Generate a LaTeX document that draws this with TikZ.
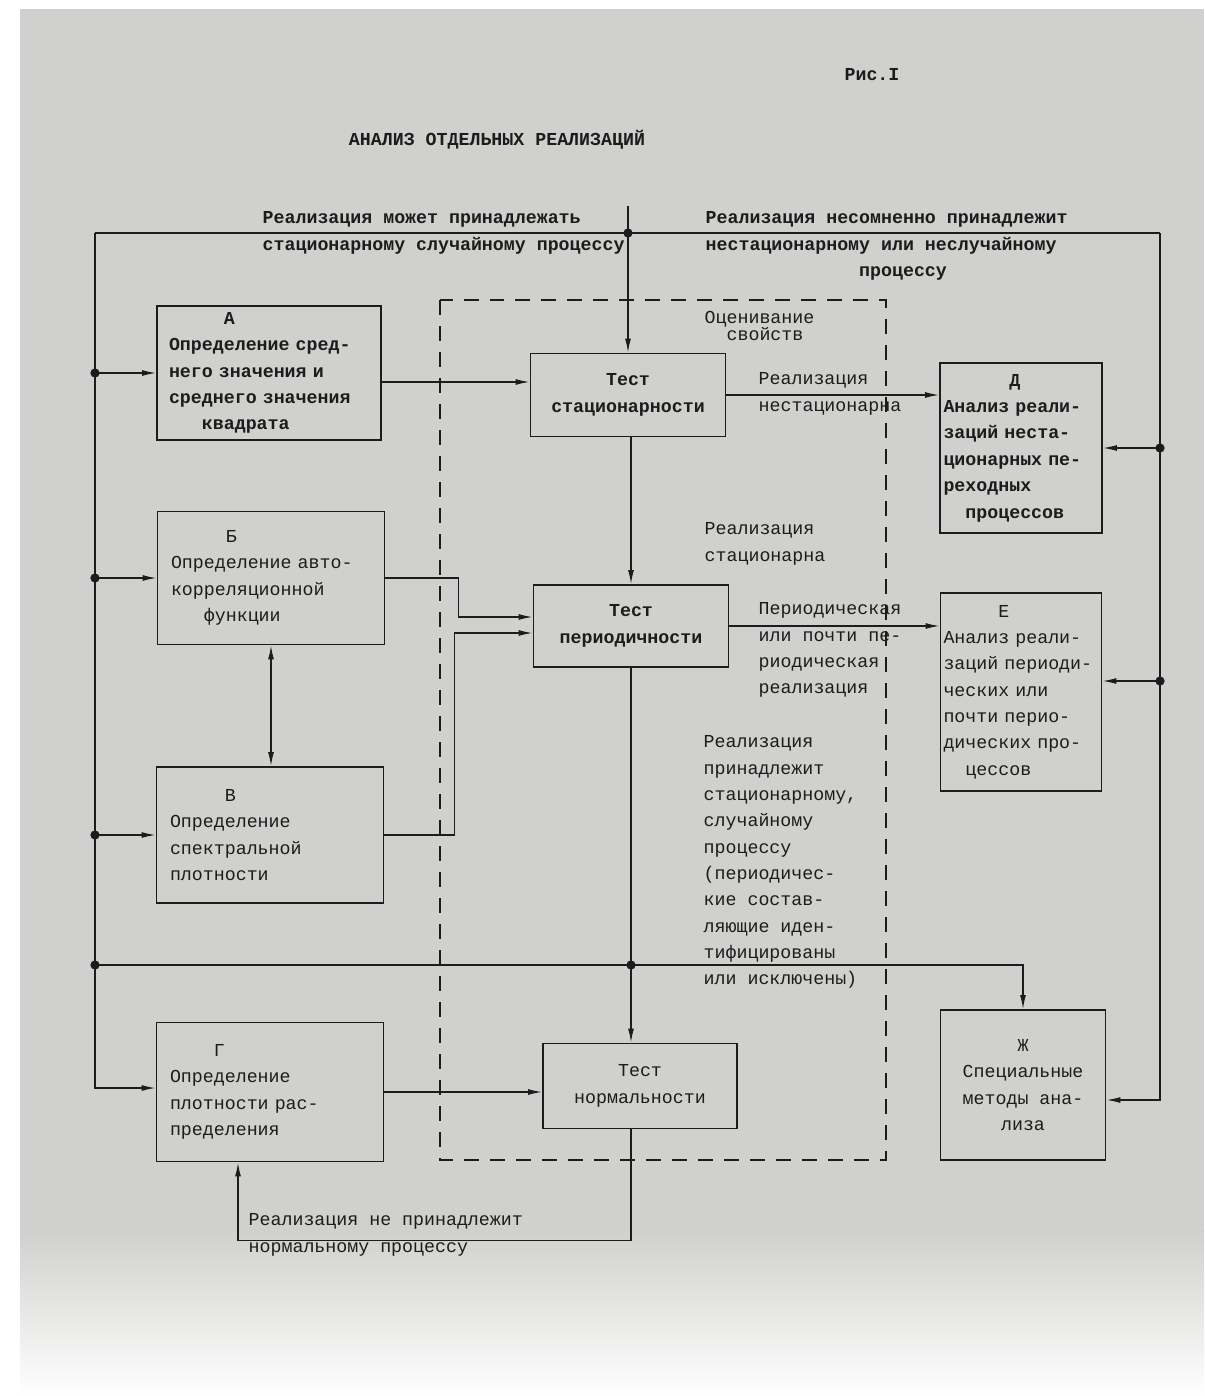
\documentclass[tikz,border=0pt]{standalone}
\usepackage{fontspec}
\setmainfont{Liberation Mono}
\usetikzlibrary{arrows.meta}
\definecolor{paper}{RGB}{208,208,206}
\definecolor{ink}{RGB}{28,28,28}
\newcommand{\tfont}{\fontsize{10.4}{15}\selectfont}
\newcommand{\pad}[1]{\hspace*{#1\dimexpr0.6em\relax}}
\tikzset{
  blk/.style={draw=ink, line width=1pt, font=\tfont, align=left},
  side/.style={blk, text width=4.0cm, inner xsep=0.2cm},
  test/.style={blk, align=center, minimum width=3.9cm, minimum height=1.66cm},
  lbl/.style={font=\tfont, align=left, anchor=north west, inner sep=0pt},
  dot/.style={fill=ink}
}
\begin{document}
\begin{tikzpicture}[x=0.02cm,y=-0.02cm, >={Latex[length=8pt,width=3.4pt]}, line width=0.8pt, color=ink]
    \useasboundingbox (0,0) rectangle (1204,1396);
    \fill[white] (0,0) rectangle (1204,1396);
    \fill[paper] (20,9) rectangle (1204,1230);
    \shade[top color=paper, bottom color=white] (20,1230) rectangle (1204,1396);

    \node[font=\tfont\bfseries] (fig) at (872,75) {Рис.I};
    \node[font=\tfont\bfseries] (title) at (497,140) {АНАЛИЗ ОТДЕЛЬНЫХ РЕАЛИЗАЦИЙ};

    % boxes
    \node[side, minimum width=4.48cm, minimum height=2.68cm, font=\tfont\bfseries] (A) at (269,373)
        {\pad{5}А\\Определение сред-\\него значения и\\среднего значения\\\pad{3}квадрата};
    \node[side, minimum width=4.54cm, minimum height=2.66cm] (B) at (271,578)
        {\pad{5}Б\\Определение авто-\\корреляционной\\\pad{3}функции};
    \node[side, minimum width=4.54cm, minimum height=2.72cm] (V) at (270,835)
        {\pad{5}В\\Определение\\спектральной\\плотности};
    \node[side, minimum width=4.54cm, minimum height=2.78cm] (G) at (270,1092)
        {\pad{4}Г\\Определение\\плотности рас-\\пределения};
    \node[test, font=\tfont\bfseries] (stat) at (628,395) {Тест\\стационарности};
    \node[test, minimum height=1.64cm, font=\tfont\bfseries] (per) at (631,626) {Тест\\периодичности};
    \node[test, minimum width=3.88cm, minimum height=1.7cm] (norm) at (640,1086) {Тест\\нормальности};
    \node[blk, text width=3.1cm, inner xsep=0.05cm, minimum width=3.24cm, minimum height=3.4cm, font=\tfont\bfseries] (D) at (1021,448)
        {\pad{6}Д\\Анализ реали-\\заций неста-\\ционарных пе-\\реходных\\\pad{2}процессов};
    \node[blk, text width=3.1cm, inner xsep=0.05cm, minimum width=3.22cm, minimum height=3.96cm] (E) at (1021,692)
        {\pad{5}Е\\Анализ реали-\\заций периоди-\\ческих или\\почти перио-\\дических про-\\\pad{2}цессов};
    \node[blk, align=center, minimum width=3.3cm, minimum height=3.0cm] (Zh) at (1023,1085)
        {Ж\\Специальные\\методы ана-\\лиза};

    \draw[dashed, dash pattern=on 0.3cm off 0.22cm, line width=1pt] (440,300) rectangle (886,1160);

    % trunk lines
    \coordinate (topL) at (95,233);
    \coordinate (topR) at (1160,233);
    \coordinate (botL) at (95,1088);
    \coordinate (botR) at (1160,1100);
    \coordinate (topV) at (628,206);
    \coordinate (hL) at (95,965);
    \draw[line width=1pt] (topL) -- (topR);
    \draw[->] (topL) -- (botL) -- (G.west |- botL);
    \draw[->] (topR) -- (botR) -- (Zh.east |- botR);
    \draw[->] (topV) -- (stat.north);
    \filldraw[dot] (topV |- topL) circle (2.2pt);

    \draw[->] (A.west -| topL) -- (A.west);
    \draw[->] (B.west -| topL) -- (B.west);
    \draw[->] (V.west -| topL) -- (V.west);
    \filldraw[dot] (A.west -| topL) circle (2.2pt);
    \filldraw[dot] (B.west -| topL) circle (2.2pt);
    \filldraw[dot] (V.west -| topL) circle (2.2pt);
    \filldraw[dot] (hL) circle (2.2pt);

    \draw[->] (D.east -| topR) -- (D.east);
    \draw[->] ([yshift=0.22cm]E.east -| topR) -- ([yshift=0.22cm]E.east);
    \filldraw[dot] (D.east -| topR) circle (2.2pt);
    \filldraw[dot] ([yshift=0.22cm]E.east -| topR) circle (2.2pt);

    % connections between boxes
    \draw[->] ([yshift=-0.18cm]A.east) -- ([yshift=-0.18cm]A.east -| stat.west);
    \draw[->] (stat.east) -- (stat.east -| D.west);
    \draw[->] (per.north |- stat.south) -- (per.north);
    \draw[->] (per.east) -- (per.east -| E.west);
    \draw[->] (B.east) -- ++(73,0) |- ([yshift=0.18cm]per.west);
    \draw[->] (V.east) -- ++(70,0) |- ([yshift=-0.14cm]per.west);
    \draw[<->] (B.south) -- (B.south |- V.north);
    \draw[->] (per.south) -- (per.south |- norm.north);
    \filldraw[dot] (per.south |- hL) circle (2.2pt);
    \draw[->] (hL) -| (Zh.north);
    \draw[->] (G.east) -- (G.east -| norm.west);
    \draw[->] (norm.south -| per.south) -- ++(0,111) -| ([xshift=-0.64cm]G.south);

    % labels
    \node[lbl, font=\tfont\bfseries] (l1) at (262,211) {Реализация может принадлежать\\стационарному случайному процессу};
    \node[lbl, font=\tfont\bfseries] (l2) at (705,211) {Реализация несомненно принадлежит\\нестационарному или неслучайному\\\pad{14}процессу};
    \node[lbl, font=\fontsize{10.4}{9.5}\selectfont] (l3) at (704,311) {Оценивание\\\pad{2}свойств};
    \node[lbl] (l4) at (758,372) {Реализация\\нестационарна};
    \node[lbl] (l5) at (704,522) {Реализация\\стационарна};
    \node[lbl] (l6) at (758,602) {Периодическая\\или почти пе-\\риодическая\\реализация};
    \node[lbl] (l7) at (703,735) {Реализация\\принадлежит\\стационарному,\\случайному\\процессу\\(периодичес-\\кие состав-\\ляющие иден-\\тифицированы\\или исключены)};
    \node[lbl] (l8) at (248,1213) {Реализация не принадлежит\\нормальному процессу};
\end{tikzpicture}
\end{document}
